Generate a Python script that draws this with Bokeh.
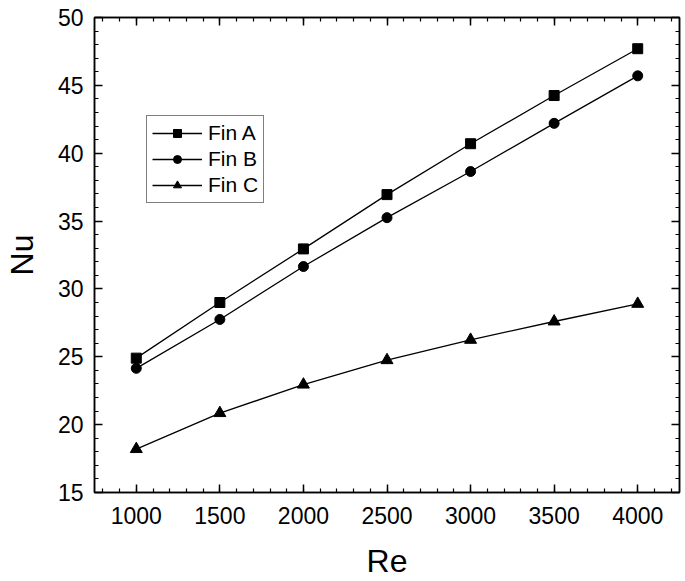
from bokeh.plotting import figure
from bokeh.models import LinearAxis, SingleIntervalTicker, Range1d, Legend, LegendItem
from bokeh.embed import file_html
from bokeh.resources import INLINE

re_vals = [1000, 1500, 2000, 2500, 3000, 3500, 4000]
fin_a = [24.9, 29.0, 32.95, 36.95, 40.7, 44.25, 47.7]
fin_b = [24.15, 27.75, 31.65, 35.25, 38.65, 42.2, 45.7]
fin_c = [18.2, 20.85, 22.95, 24.75, 26.25, 27.6, 28.9]
series_names = ["Fin A", "Fin B", "Fin C"]
x_title = "Re"
y_title = "Nu"

FONT = "Liberation Sans"

p = figure(width=683, height=581, output_backend="svg", toolbar_location=None,
           x_range=Range1d(750, 4250), y_range=Range1d(15, 50),
           min_border_left=93, min_border_right=4, min_border_top=17, min_border_bottom=88,
           x_axis_label=x_title, y_axis_label=y_title)
p.grid.visible = False
p.outline_line_color = "black"
p.outline_line_width = 1.5

p.xaxis.ticker = SingleIntervalTicker(interval=500, num_minor_ticks=5)
p.yaxis.ticker = SingleIntervalTicker(interval=5, num_minor_ticks=5)

def style_axis(ax, labels=True):
    ax.axis_line_color = "black"
    ax.axis_line_width = 1.5
    ax.major_tick_in = 8
    ax.major_tick_out = 0
    ax.minor_tick_in = 4
    ax.minor_tick_out = 0
    ax.major_tick_line_color = "black"
    ax.major_tick_line_width = 1.5
    ax.minor_tick_line_color = "black"
    ax.minor_tick_line_width = 1.2
    ax.major_label_text_font = FONT
    if labels:
        ax.major_label_text_font_size = "23px"
        ax.major_label_text_color = "black"
    else:
        ax.major_label_text_font_size = "1px"
        ax.major_label_text_color = None
    ax.axis_label_text_font = FONT
    ax.axis_label_text_font_size = "32px"
    ax.axis_label_text_font_style = "normal"
    ax.axis_label_text_color = "black"

for ax in p.xaxis + p.yaxis:
    style_axis(ax)
p.xaxis.major_label_standoff = 14
p.xaxis.axis_label_standoff = 16
p.yaxis.major_label_standoff = 11
p.yaxis.axis_label_standoff = 15

top = LinearAxis(ticker=SingleIntervalTicker(interval=500, num_minor_ticks=5), major_label_standoff=0)
right = LinearAxis(ticker=SingleIntervalTicker(interval=5, num_minor_ticks=5), major_label_standoff=0)
style_axis(top, labels=False)
style_axis(right, labels=False)
p.add_layout(top, "above")
p.add_layout(right, "right")

ys = [fin_a, fin_b, fin_c]
markers = ["square", "circle", "triangle"]
sizes = [10, 10, 12]
items = []
for name, y, m, s in zip(series_names, ys, markers, sizes):
    l = p.line(re_vals, y, line_color="black", line_width=1.3)
    sc = p.scatter(re_vals, y, marker=m, size=s, fill_color="black", line_color="black")
    items.append(LegendItem(label=name, renderers=[l, sc]))

legend = Legend(items=items, location=(52, 289))
legend.border_line_color = "black"
legend.border_line_width = 1.5
legend.label_text_font = FONT
legend.label_text_font_size = "21px"
legend.label_text_color = "black"
legend.glyph_width = 50
legend.glyph_height = 20
legend.spacing = 2
legend.padding = 5
legend.margin = 0
legend.label_standoff = 6
legend.background_fill_alpha = 1
p.add_layout(legend, "center")

open("out.html", "w").write(file_html(p, INLINE))
